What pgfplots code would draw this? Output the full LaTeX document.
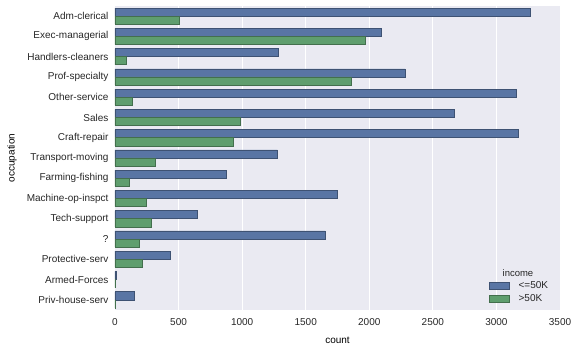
\documentclass[border=0pt]{standalone}
\usepackage{pgfplots}
\pgfplotsset{compat=1.18}
\usepackage{fontspec}
\setmainfont{Liberation Sans}
\definecolor{bblue}{HTML}{5975A4}
\definecolor{bgreen}{HTML}{5F9E6E}
\definecolor{bgc}{HTML}{EAEAF2}
\definecolor{txt}{HTML}{262626}
\begin{document}
\begin{tikzpicture}
\begin{axis}[
  scale only axis, width=445pt, height=304pt,
  at={(0,0)}, anchor=south west,
  xbar, bar width=0.4,
  xmin=0, xmax=3500, ymin=-0.5, ymax=14.5, y dir=reverse,
  ytick={0,...,14},
  yticklabels={Adm-clerical,Exec-managerial,Handlers-cleaners,Prof-specialty,Other-service,Sales,Craft-repair,Transport-moving,Farming-fishing,Machine-op-inspct,Tech-support,?,Protective-serv,Armed-Forces,Priv-house-serv},
  xtick={0,500,...,3500},
  axis background/.style={fill=bgc},
  axis line style={draw=none},
  major tick length=0pt,
  xmajorgrids, grid style={white, line width=1pt},
  tick label style={font=\fontsize{10}{12}\selectfont, text=txt},
  yticklabel style={xshift=-3pt},
  xticklabel style={yshift=-5pt},
  /pgf/number format/assume math mode=true,
  /pgf/number format/1000 sep={},
  xlabel={count}, ylabel={occupation},
  label style={font=\fontsize{11}{13}\selectfont, text=txt},
  every axis x label/.style={at={(axis description cs:0.5,0)}, anchor=center, yshift=-30pt},
  every axis y label/.style={at={(axis description cs:0,0.5)}, anchor=center, rotate=90, yshift=103pt},
  legend style={at={(0.985,0.01)}, anchor=south east, draw=none, fill=none,
     font=\fontsize{10}{12}\selectfont, text=txt, row sep=0pt},
  legend cell align=left,
  legend image code/.code={\draw[#1] (0pt,-3.5pt) rectangle (20pt,3.5pt); \path (27pt,0pt);},
]
\addlegendimage{empty legend}
\addlegendentry{\hspace{-16pt}\fontsize{9.5}{11}\selectfont income}
\addplot[bar shift=-0.2, fill=bblue, draw=bblue!70!black, line width=0.6pt] coordinates {
(3263,0) (2098,1) (1284,2) (2281,3) (3158,4) (2667,5) (3170,6) (1277,7) (879,8) (1752,9) (645,10) (1652,11) (438,12) (8,13) (148,14)};
\addlegendentry{<=50K}
\addplot[bar shift=0.2, fill=bgreen, draw=bgreen!70!black, line width=0.6pt] coordinates {
(507,0) (1968,1) (86,2) (1859,3) (137,4) (983,5) (929,6) (320,7) (115,8) (250,9) (283,10) (191,11) (211,12) (1,13) (1,14)};
\addlegendentry{>50K}
\end{axis}
\path[use as bounding box] (-115pt,-42pt) rectangle (463pt,310pt);
\end{tikzpicture}
\end{document}
